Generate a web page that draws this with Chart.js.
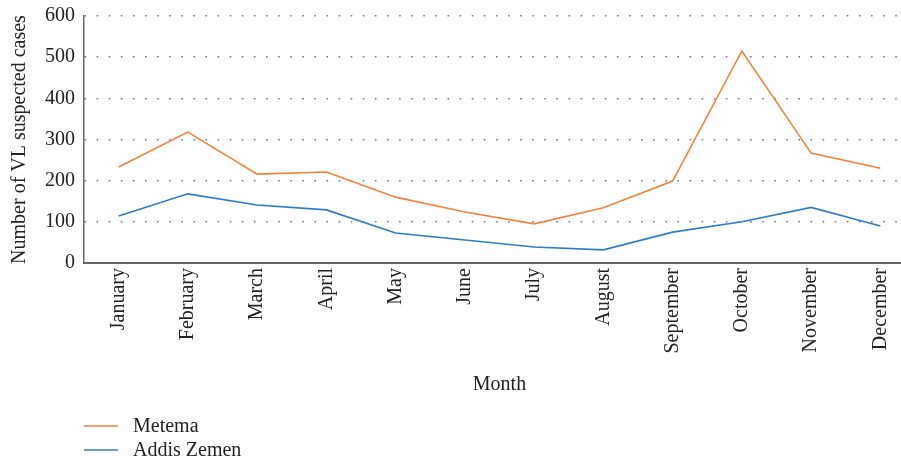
<!DOCTYPE html>
<html lang="en">
<head>
  <meta charset="UTF-8">
  <script src="https://cdn.jsdelivr.net/npm/chart.js@4"></script>
  <title>VL suspected cases by month</title>
  <style>
    body { margin: 0; background: #fff; }
    #wrap { width: 901px; height: 464px; overflow: hidden; }
  </style>
</head>
<body>
  <div id="wrap">
    <canvas id="myChart" width="915" height="464"></canvas>
  </div>
  <script>
  const months = ['January', 'February', 'March', 'April', 'May', 'June', 'July',
    'August', 'September', 'October', 'November', 'December'];
  const metema = [233, 318, 216, 221, 160, 124, 95, 134, 199, 515, 267, 230];
  const addisZemen = [114, 168, 141, 129, 73, 56, 39, 32, 75, 100, 135, 90];
  const yTicks = [0, 100, 200, 300, 400, 500, 600];

  const FONT = '"Liberation Serif", "Times New Roman", serif';

  // legend drawn by hand: stacked, bottom left
  const stackedLegend = {
    id: 'stackedLegend',
    afterDraw(chart) {
      const ctx = chart.ctx;
      const x0 = chart.chartArea.left;
      ctx.save();
      ctx.font = '20px ' + FONT;
      ctx.textBaseline = 'middle';
      chart.data.datasets.forEach((ds, i) => {
        const y = 426 + i * 24;
        ctx.strokeStyle = ds.borderColor;
        ctx.lineWidth = 1.5;
        ctx.beginPath();
        ctx.moveTo(x0, y);
        ctx.lineTo(x0 + 34, y);
        ctx.stroke();
        ctx.fillStyle = '#222';
        ctx.fillText(ds.label, x0 + 49, y + 1);
      });
      ctx.restore();
    }
  };

  const ctx = document.getElementById('myChart').getContext('2d');
  new Chart(ctx, {
    type: 'line',
    data: {
      labels: months,
      datasets: [{
        label: 'Metema',
        data: metema,
        borderColor: '#F5813A',
        borderWidth: 1.6,
        pointRadius: 0,
        tension: 0
      }, {
        label: 'Addis Zemen',
        data: addisZemen,
        borderColor: '#2F7BC8',
        borderWidth: 1.6,
        pointRadius: 0,
        tension: 0
      }]
    },
    options: {
      responsive: false,
      animation: false,
      layout: { padding: { left: 0, top: 16, right: 0, bottom: 0 } },
      plugins: {
        legend: { display: false },
        tooltip: { enabled: false }
      },
      scales: {
        x: {
          offset: true,
          afterFit(axis) { axis.height = 201; },
          grid: { display: false, drawTicks: false },
          border: { display: true, color: '#666', width: 2 },
          ticks: {
            color: '#222',
            font: { family: FONT, size: 20 },
            minRotation: 90,
            maxRotation: 90,
            padding: 5
          },
          title: {
            display: true,
            text: 'Month',
            color: '#222',
            font: { family: FONT, size: 20 },
            padding: { top: 4, bottom: 67 }
          }
        },
        y: {
          min: 0,
          max: 600,
          afterFit(axis) {
            axis.width = 84;
            axis.paddingTop = 0;
            axis.paddingBottom = 0;
          },
          afterBuildTicks(axis) {
            axis.ticks = yTicks.map(v => ({ value: v }));
          },
          grid: {
            drawTicks: false,
            color: ctx => ctx.tick && ctx.tick.value === 0 ? 'rgba(0,0,0,0)' : '#777',
            lineWidth: 1.6
          },
          border: { display: true, color: '#666', width: 1.5, dash: [1.6, 10.5] },
          ticks: {
            color: '#222',
            font: { family: FONT, size: 20 },
            padding: 9
          },
          title: {
            display: true,
            text: 'Number of VL suspected cases',
            color: '#222',
            font: { family: FONT, size: 20 },
            padding: { top: 8, bottom: 4 }
          }
        }
      }
    },
    plugins: [stackedLegend]
  });
  </script>
</body>
</html>
